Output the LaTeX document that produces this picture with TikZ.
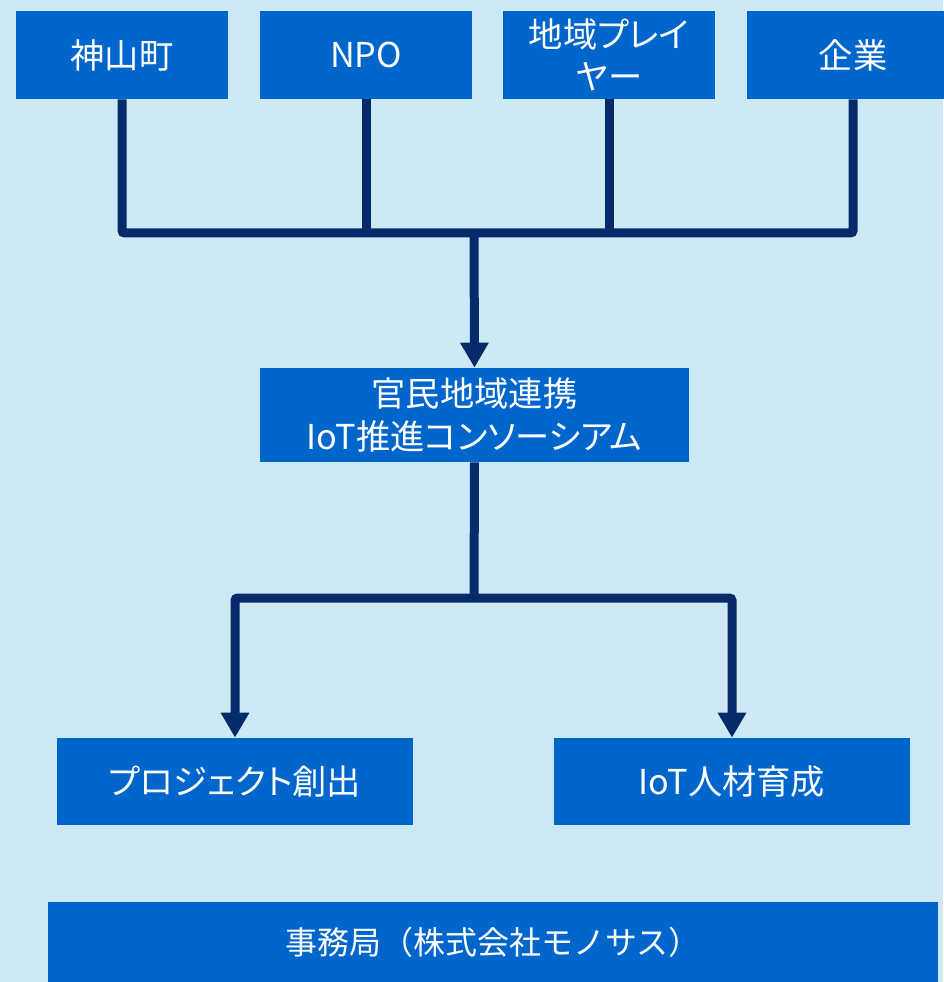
\documentclass[tikz,border=0pt]{standalone}
\usepackage{fontspec}
\newfontfamily\jpfont[RawFeature=+palt]{Noto Sans CJK JP}
\newfontfamily\jpfullfont{Noto Sans CJK JP}
\usetikzlibrary{arrows.meta,positioning}

\definecolor{bgblue}{HTML}{CDE9F5}
\definecolor{boxblue}{HTML}{0066CC}
\definecolor{linenavy}{HTML}{062B6B}

\begin{document}
\begin{tikzpicture}[x=0.02cm,y=-0.02cm,
	box/.style={fill=boxblue, text=white, inner sep=0pt, align=center,
		font=\jpfont\fontsize{19.5}{24}\selectfont},
	topbox/.style={box, minimum width=4.24cm, minimum height=1.76cm},
	subbox/.style={box, minimum width=7.12cm, minimum height=1.74cm},
	conn/.style={draw=linenavy, line width=0.18cm, rounded corners=1.5pt},
	arrow/.style={conn, -{Triangle[length=0.5cm, width=0.54cm]}}]

	% ---- background

	\fill[bgblue] (0,0) rectangle (943,982);
	\useasboundingbox (0,0) rectangle (943,982);

	% ---- members

	\node[topbox] (kamiyama) at (122,55) {神山町};
	\node[topbox] (npo) at (366,55) {NPO};
	\node[topbox] (player) at (609,55) {地域プレイ\\ヤー};
	\node[topbox] (kigyo) at (853,55) {企業};

	% ---- consortium

	\node[box, minimum width=8.58cm, minimum height=1.88cm] (consortium) at (474.5,415)
		{官民地域連携\\IoT推進コンソーシアム};

	% ---- activities

	\node[subbox] (project) at (235,781.5) {プロジェクト創出};
	\node[subbox] (jinzai) at (732,781.5) {IoT人材育成};

	% ---- office

	\node[box, font=\jpfullfont\fontsize{18.2}{24}\selectfont,
		minimum width=17.8cm, minimum height=1.6cm] (office) at (493,942)
		{事務局（株式会社モノサス）};

	% ---- joints

	\coordinate (join) at (474,233);
	\coordinate (split) at (474,598);

	% ---- connectors

	\draw[conn] (kamiyama.south) |- (kigyo.south |- join) -- (kigyo.south);
	\draw[conn] (npo.south) -- (npo.south |- join);
	\draw[conn] (player.south) -- (player.south |- join);
	\draw[arrow] (join) -- (consortium.north);

	\draw[conn] (consortium.south) -- (split);
	\draw[arrow] (split) -| (project.north);
	\draw[arrow] (split) -| (jinzai.north);

\end{tikzpicture}
\end{document}
